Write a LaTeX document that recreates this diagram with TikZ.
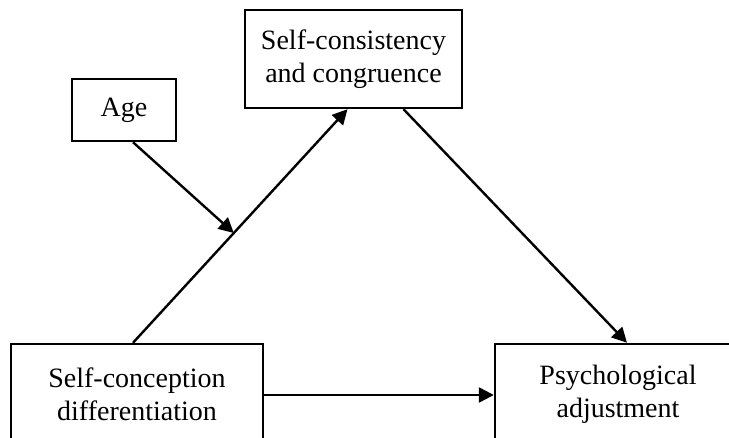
\documentclass[tikz,border=0pt]{standalone}
\usepackage{fontspec}
\setmainfont{Liberation Serif}
\usetikzlibrary{arrows.meta,positioning}

\begin{document}
\begin{tikzpicture}[x=1pt,y=-1pt,line width=2.4pt,
    >={Triangle[length=15pt,width=15pt]}]
  \tikzstyle{boxV}=[draw,rectangle,align=center,inner sep=0pt,
    font=\fontsize{28}{33}\selectfont]
  \useasboundingbox (0,0) rectangle (729,438);
  \clip (0,0) rectangle (729,438);

  \node[boxV, minimum width=252pt, minimum height=100pt] (scd) at (137,394) {Self-conception\\differentiation};
  \node[boxV, minimum width=246pt, minimum height=100pt] (adj) at (618,394) {Psychological\\adjustment};
  \node[boxV, minimum width=217pt, minimum height=98pt]  (scc) at (353.5,59) {Self-consistency\\and congruence};
  \node[boxV, minimum width=104pt, minimum height=62pt]  (age) at (124,110) {Age};

  \draw[->] ([xshift=-4pt]scd.north) -- coordinate[pos=0.47] (mod) ([xshift=-6pt]scc.south);
  \draw[->] ([xshift=50pt]scc.south) -- ([xshift=9pt]adj.north);
  \draw[->] ([yshift=-1pt]scd.east) -- ([yshift=-1pt]adj.west);
  \draw[->] ([xshift=9pt]age.south) -- (mod);

\end{tikzpicture}
\end{document}
